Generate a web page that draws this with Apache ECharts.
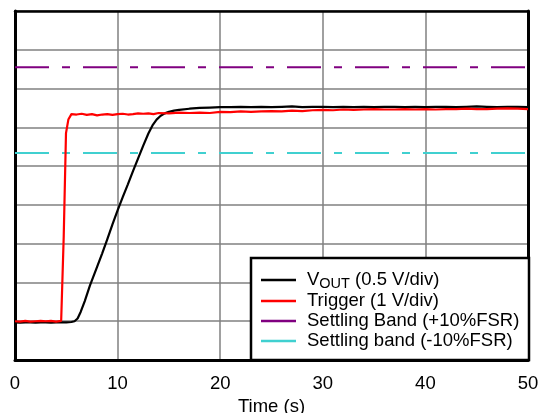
<!DOCTYPE html>
<html><head><meta charset="utf-8">
<script src="https://cdn.jsdelivr.net/npm/echarts@6/dist/echarts.min.js"></script>
<style>html,body{margin:0;padding:0;background:#fff}#c{width:542px;height:413px}</style>
</head><body><div id="c"></div>
<script>
// Data (y in divisions, 9 divisions full scale; x in seconds)
var voutTime = [0,0.5,1,1.5,2,2.5,3,3.5,4,4.5,5,5.5,5.8,6.1,6.4,6.8,7.3,8,8.5,9,9.5,10,10.5,11,11.5,12,12.5,13,13.4,13.8,14.2,14.6,15,15.5,16,17,18,19,20,21,22,23,24,25,26,27,28,29,30,31,32,33,34,35,36,37,38,39,40,41,42,43,44,45,46,47,48,49,50];
var voutValues = [0.97,0.96,0.97,0.97,0.96,0.97,0.97,0.96,0.97,0.97,0.97,0.98,1.0,1.07,1.24,1.52,1.92,2.40,2.75,3.12,3.50,3.86,4.20,4.53,4.87,5.20,5.53,5.84,6.05,6.20,6.30,6.36,6.40,6.43,6.45,6.48,6.50,6.51,6.52,6.52,6.53,6.52,6.53,6.52,6.53,6.54,6.52,6.53,6.53,6.52,6.53,6.52,6.53,6.52,6.53,6.53,6.52,6.53,6.52,6.53,6.53,6.52,6.53,6.54,6.53,6.52,6.53,6.53,6.52];
var trigTime = [0,0.5,1,1.5,2,2.5,3,3.5,4,4.5,4.55,4.75,4.97,5.2,5.5,6,6.5,7,7.5,8,8.5,9,9.5,10,10.5,11,11.5,12,12.5,13,13.5,14,15,16,17,18,19,20,21,22,23,24,25,26,27,28,29,30,31,32,33,34,35,36,37,38,39,40,41,42,43,44,45,46,47,48,49,50];
var trigValues = [1.00,0.99,1.01,0.99,1.00,1.01,1.00,1.01,0.99,1.01,1.02,3.20,5.85,6.20,6.34,6.33,6.35,6.32,6.34,6.31,6.33,6.34,6.32,6.34,6.35,6.33,6.34,6.36,6.35,6.36,6.34,6.37,6.36,6.38,6.37,6.38,6.37,6.40,6.39,6.41,6.40,6.41,6.42,6.41,6.43,6.42,6.44,6.45,6.44,6.46,6.45,6.46,6.47,6.46,6.46,6.47,6.46,6.47,6.46,6.47,6.47,6.48,6.47,6.47,6.48,6.49,6.48,6.47];
var bandHigh = 7.55;
var bandLow = 5.34;
var xRange = [0, 50];
var seriesNames = ['VOUT (0.5 V/div)', 'Trigger (1 V/div)', 'Settling Band (+10%FSR)', 'Settling band (-10%FSR)'];

function pairs(t, v){ return t.map(function(x,i){ return [x, v[i]]; }); }

var FONT = '"Liberation Sans", Arial, sans-serif';
var FS = 18.5;
var chart = echarts.init(document.getElementById('c'), null, {renderer:'canvas'});
var dash = [34,13,8,13];
var option = {
  animation: false,
  backgroundColor: '#fff',
  grid: {left: 15, right: 14, top: 11, bottom: 53, containLabel: false, outerBoundsMode: 'none'},
  xAxis: [{
    type: 'value', min: 0, max: 50, interval: 10, position: 'bottom',
    axisLine: {show: true, onZero: false, lineStyle: {color: '#000', width: 3}},
    axisTick: {show: false},
    axisLabel: {color: '#000', fontSize: FS, fontFamily: FONT, margin: 14},
    splitLine: {show: true, lineStyle: {color: '#808080', width: 1.5}},
    name: 'Time (s)', nameLocation: 'middle', nameGap: 32,
    nameTextStyle: {color: '#000', fontSize: FS, fontFamily: FONT}
  },{
    type: 'value', min: 0, max: 50, position: 'top',
    axisLine: {show: true, onZero: false, lineStyle: {color: '#000', width: 2.5}},
    axisTick: {show: false}, axisLabel: {show: false}, splitLine: {show: false}
  }],
  yAxis: [{
    type: 'value', min: 0, max: 9, interval: 1, position: 'left',
    axisLine: {show: true, onZero: false, lineStyle: {color: '#000', width: 3}},
    axisTick: {show: false}, axisLabel: {show: false},
    splitLine: {show: true, lineStyle: {color: '#808080', width: 1.5}}
  },{
    type: 'value', min: 0, max: 9, position: 'right',
    axisLine: {show: true, onZero: false, lineStyle: {color: '#000', width: 3}},
    axisTick: {show: false}, axisLabel: {show: false}, splitLine: {show: false}
  }],
  graphic: [{
    type: 'rect', z: 3, shape: {x: 251, y: 258, width: 278, height: 102},
    style: {fill: '#fff', stroke: '#000', lineWidth: 2.5}
  }],
  legend: {
    z: 5, orient: 'vertical', left: 251, top: 258, padding: [11, 6, 11, 10],
    icon: 'rect', itemWidth: 35, itemHeight: 2.5, itemGap: 0,
    data: seriesNames,
    formatter: function(n){
      if (n === seriesNames[0]) return '{t|V}{s|OUT}{t| (0.5 V/div)}';
      return '{t|' + n + '}';
    },
    textStyle: {
      color: '#000', fontSize: FS, fontFamily: FONT, lineHeight: 20, padding: [0,0,0,6],
      rich: {
        t: {fontSize: FS, fontFamily: FONT, color: '#000', lineHeight: 20},
        s: {fontSize: 14.5, fontFamily: FONT, color: '#000', lineHeight: 20, padding: [7,0,0,0]}
      }
    }
  },
  series: [
    {name: seriesNames[0], type: 'line', data: pairs(voutTime, voutValues), showSymbol: false, symbol: 'none',
     lineStyle: {color: '#000', width: 2.2}, itemStyle: {color: '#000'}, z: 3},
    {name: seriesNames[1], type: 'line', data: pairs(trigTime, trigValues), showSymbol: false, symbol: 'none',
     lineStyle: {color: '#ff0000', width: 2.2}, itemStyle: {color: '#ff0000'}, z: 3},
    {name: seriesNames[2], type: 'line', data: [[xRange[0], bandHigh],[xRange[1], bandHigh]], showSymbol: false, symbol: 'none',
     lineStyle: {color: '#800080', width: 2, type: dash}, itemStyle: {color: '#800080'}, z: 2},
    {name: seriesNames[3], type: 'line', data: [[xRange[0], bandLow],[xRange[1], bandLow]], showSymbol: false, symbol: 'none',
     lineStyle: {color: '#40d0d0', width: 2, type: dash}, itemStyle: {color: '#40d0d0'}, z: 2}
  ]
};
chart.setOption(option);
</script></body></html>
